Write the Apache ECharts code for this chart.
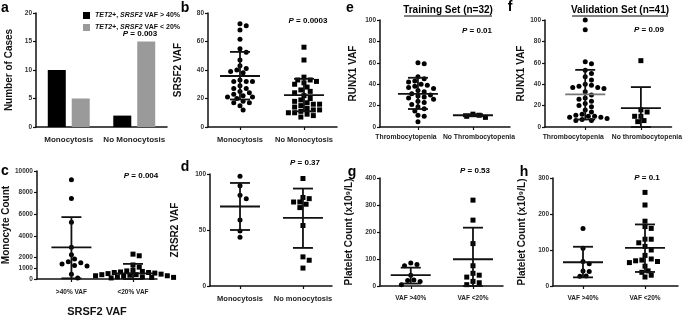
<!DOCTYPE html>
<html>
<head>
<meta charset="utf-8">
<script src="https://cdn.jsdelivr.net/npm/echarts@6/dist/echarts.min.js"></script>
<style>
  html, body { margin: 0; padding: 0; background: #fff; }
  #chart { width: 685px; height: 318px; }
</style>
</head>
<body>
<div id="chart"></div>
<script>
// ---- panel a: counts ----
var aCats = ['Monocytosis', 'No Monocytosis'];
var aHigh = [10, 2];   // TET2+, SRSF2 VAF > 40%
var aLow = [5, 15];    // TET2+, SRSF2 VAF < 20%
var aTicks = [0, 5, 10, 15, 20];

// ---- panel b: SRSF2 VAF ----
var bCats = ['Monocytosis', 'No Monocytosis'];
var bMono = [72.5, 71, 68, 61.5, 55, 52.5, 47, 43, 41, 40, 39, 38, 33, 32, 32, 32, 29, 27, 27, 25, 24, 23, 22, 21, 21, 20, 18, 17, 17, 15, 12];
var bNoMono = [56, 47, 35, 33, 33, 32, 31, 30, 28, 26, 25, 24, 22, 20, 19, 18, 17, 16, 16, 15, 14, 13, 12, 12, 11, 10, 10, 9, 8, 7];
var bMean = [35.8, 22.4], bLo = [19.3, 11], bHi = [52.7, 33.8];
var bTicks = [0, 20, 40, 60, 80];

// ---- panel e: training set ----
var eCats = ['Thrombocytopenia', 'No Thrombocytopenia'];
var eThr = [60, 59, 47, 45, 43, 42, 40, 39, 38, 37, 36, 34, 33, 31, 30, 29, 28, 27, 26, 24, 23, 21, 19, 17, 15, 11, 10, 5];
var eNoThr = [12, 11, 10, 9];
var eMean = [31, 11], eLo = [16.8, 10], eHi = [46, 12];
var eTicks = [0, 20, 40, 60, 80, 100];

// ---- panel f: validation set ----
var fCats = ['Thrombocytopenia', 'No thrombocytopenia'];
var fThr = [100, 91, 61, 59, 53, 50, 47, 44, 40, 39, 38, 37, 37, 36, 33, 30, 27, 26, 24, 22, 20, 19, 16, 14, 12, 11, 10, 10, 9, 9, 8, 7, 6, 6];
var fNoThr = [62, 16, 14, 10, 10, 6, 5];
var fMean = [30.4, 17.7], fLo = [7, 0], fHi = [53.4, 37.3];
var fTicks = [0, 20, 40, 60, 80, 100];

// ---- panel c: monocyte count ----
var cCats = ['>40% VAF', '<20% VAF'];
var cHigh = [9200, 7450, 5250, 2950, 2250, 1850, 1600, 1500, 1400, 1250, 1200, 450, 100];
var cLow = [2300, 2150, 1300, 1100, 800, 750, 700, 650, 600, 600, 550, 500, 450, 400, 400, 350, 300, 300, 250, 200, 200, 150, 150, 100];
var cMean = [2924, 530], cLo = [60, 0], cHi = [5730, 1400];
var cTicks = [0, 1000, 2000, 4000, 6000, 8000, 10000];

// ---- panel d: ZRSR2 VAF ----
var dCats = ['Monocytosis', 'No monocytosis'];
var dMono = [98, 89.5, 81, 78, 59, 49, 43.5];
var dNoMono = [96, 79, 78, 75, 75, 73, 70, 54, 26, 23, 16];
var dMean = [71, 60.9], dLo = [50, 34], dHi = [92, 87];
var dTicks = [0, 50, 100];

// ---- panel g: platelets, training ----
var gCats = ['VAF >40%', 'VAF <20%'];
var gHigh = [85, 80, 75, 40, 22, 20, 17, 5];
var gLow = [318, 244, 157, 75, 47, 40, 33, 17, 12, 5];
var gMean = [40, 99], gLo = [9, 0], gHi = [68, 216];
var gTicks = [0, 100, 200, 300, 400];

// ---- panel h: platelets, validation ----
var hCats = ['VAF >40%', 'VAF <20%'];
var hHigh = [160, 105, 68, 62, 42, 40, 28, 27];
var hLow = [260, 225, 180, 165, 160, 130, 130, 120, 110, 100, 85, 75, 72, 70, 68, 65, 55, 42, 38, 30, 25];
var hMean = [66, 106], hLo = [24, 39], hHi = [109, 171];
var hTicks = [0, 100, 200, 300];

var FONT = 'Liberation Sans, Arial, sans-serif';
var NARROW = 'Liberation Sans Narrow, Liberation Sans, Arial, sans-serif';
var platName = 'Platelet Count (x10\u2079/L)';

var panels = [
  { box: [208, 13, 129, 114], pos: [0.248, 0.744], cats: bCats, groups: [bMono, bNoMono], mean: bMean, lo: bLo, hi: bHi, ticks: bTicks, name: 'SRSF2 VAF', gap: 25 },
  { box: [380, 20, 130, 107], pos: [0.292, 0.715], cats: eCats, groups: [eThr, eNoThr], mean: eMean, lo: eLo, hi: eHi, ticks: eTicks, name: 'RUNX1 VAF', gap: 22, labelSize: 6.8, shift: [-12, 6], labelGap: 7 },
  { box: [545, 20, 132, 107], pos: [0.318, 0.758], cats: fCats, groups: [fThr, fNoThr], mean: fMean, lo: fLo, hi: fHi, ticks: fTicks, name: 'RUNX1 VAF', gap: 18, labelSize: 6.8, shift: [-12, 6], labelGap: 7, meanColor: '#777' },
  { box: [36, 171, 121, 114], pos: [0.287, 0.80], cats: cCats, groups: [cHigh, cLow], mean: cMean, lo: cLo, hi: cHi, ticks: cTicks, name: 'Monocyte Count', gap: 25, xName: 'SRSF2 VAF', labelSize: 6.5, labelGap: 10 },
  { box: [210, 174, 122, 112], pos: [0.246, 0.762], cats: dCats, groups: [dMono, dNoMono], mean: dMean, lo: dLo, hi: dHi, ticks: dTicks, name: 'ZRSR2 VAF', gap: 30 },
  { box: [380, 178, 123, 108], pos: [0.25, 0.756], cats: gCats, groups: [gHigh, gLow], mean: gMean, lo: gLo, hi: gHi, ticks: gTicks, name: platName, gap: 26, labelSize: 6.5 },
  { box: [553, 178, 125, 108], pos: [0.24, 0.736], cats: hCats, groups: [hHigh, hLow], mean: hMean, lo: hLo, hi: hHi, ticks: hTicks, name: platName, gap: 26, labelSize: 6.5 }
];

// spread overlapping dots sideways, like a dot plot
function swarmData(vals, xc, yMin, yMax, hPx, size) {
  var k = hPx / (yMax - yMin), placed = [], step = size * 0.6;
  return vals.map(function (v) {
    var py = (v - yMin) * k, dx = 0;
    for (var i = 0; i < 80; i++) {
      dx = i === 0 ? 0 : (i % 2 ? 1 : -1) * Math.ceil(i / 2) * step;
      var hit = placed.some(function (p) {
        var ddx = p[0] - dx, ddy = p[1] - py;
        return ddx * ddx + ddy * ddy < size * size;
      });
      if (!hit) break;
    }
    placed.push([dx, py]);
    return { value: [xc, v], symbolOffset: [dx, 0] };
  });
}

function errRenderer(meanColor) {
  return function (params, api) {
    var x = api.value(0);
    var m = api.coord([x, api.value(1)]);
    var lo = api.coord([x, api.value(2)]);
    var hi = api.coord([x, api.value(3)]);
    var st = { stroke: '#111', lineWidth: 1.8 };
    var mst = { stroke: (x === 1 && meanColor) || '#111', lineWidth: 1.8 };
    var mh = 20, ch = 10;
    return {
      type: 'group',
      children: [
        { type: 'line', shape: { x1: lo[0], y1: lo[1], x2: hi[0], y2: hi[1] }, style: st },
        { type: 'line', shape: { x1: lo[0] - ch, y1: lo[1], x2: lo[0] + ch, y2: lo[1] }, style: st },
        { type: 'line', shape: { x1: hi[0] - ch, y1: hi[1], x2: hi[0] + ch, y2: hi[1] }, style: st },
        { type: 'line', shape: { x1: m[0] - mh, y1: m[1], x2: m[0] + mh, y2: m[1] }, style: mst }
      ]
    };
  };
}

function yAxisOf(i, ticks, name, gap) {
  return {
    gridIndex: i, type: 'value', min: ticks[0], max: ticks[ticks.length - 1],
    axisLine: { show: true, lineStyle: { color: '#111', width: 1.5 } },
    axisTick: { show: true, customValues: ticks, length: 3, lineStyle: { color: '#111', width: 1.2 } },
    axisLabel: { customValues: ticks, fontSize: 6.5, fontWeight: 'bold', color: '#333', margin: 4, fontFamily: FONT,
      hideOverlap: false, formatter: function (v) { return String(v); } },
    splitLine: { show: false },
    name: name, nameLocation: 'middle', nameGap: gap,
    nameTextStyle: { fontSize: 10, fontWeight: 'bold', color: '#111', fontFamily: FONT }
  };
}

var grids = [{ left: 36, top: 13, width: 131, height: 114 }];
var xAxes = [{
  gridIndex: 0, type: 'category', data: aCats,
  axisLine: { lineStyle: { color: '#111', width: 1.5 } },
  axisTick: { show: false },
  axisLabel: { interval: 0, hideOverlap: false, fontSize: 8, fontWeight: 'bold', color: '#222', margin: 9, fontFamily: NARROW }
}];
var yAxes = [yAxisOf(0, aTicks, 'Number of Cases', 22)];
var series = [
  { name: 'high', type: 'bar', xAxisIndex: 0, yAxisIndex: 0, data: aHigh, barWidth: 18, barGap: '33%', itemStyle: { color: '#000' } },
  { name: 'low', type: 'bar', xAxisIndex: 0, yAxisIndex: 0, data: aLow, barWidth: 18, barGap: '33%', itemStyle: { color: '#9a9a9a' } }
];

panels.forEach(function (p, n) {
  var i = n + 1;
  var span = 1 / (p.pos[1] - p.pos[0]);
  var xmin = 1 - p.pos[0] * span;
  var xi = xAxes.length;
  var fs = p.labelSize || 7.5;
  grids.push({ left: p.box[0], top: p.box[1], width: p.box[2], height: p.box[3] });
  // one x axis per category label, so long labels are not dropped as overlapping
  [1, 2].forEach(function (c) {
    var sh = p.shift ? p.shift[c - 1] : 0;
    var pad = sh < 0 ? [0, -2 * sh, 0, 0] : [0, 0, 0, 2 * sh];
    xAxes.push({
      gridIndex: i, type: 'value', min: xmin, max: xmin + span, position: 'bottom',
      axisLine: { show: c === 1, onZero: false, lineStyle: { color: '#111', width: 1.5 } },
      axisTick: { show: true, customValues: [c], length: 3, lineStyle: { color: '#111', width: 1.2 } },
      axisLabel: {
        customValues: [c], hideOverlap: false, fontSize: fs, fontWeight: 'bold', color: '#222',
        margin: p.labelGap || 9, fontFamily: NARROW,
        formatter: function (v) { return '{t|' + p.cats[Math.round(v) - 1] + '}'; },
        rich: { t: { fontSize: fs, fontWeight: 'bold', color: '#222', fontFamily: NARROW, padding: pad } }
      },
      splitLine: { show: false },
      name: c === 1 ? (p.xName || '') : '', nameLocation: 'middle', nameGap: 27,
      nameTextStyle: { fontSize: 11, fontWeight: 'bold', color: '#111', fontFamily: FONT }
    });
  });
  yAxes.push(yAxisOf(i, p.ticks, p.name, p.gap));
  var yMin = p.ticks[0], yMax = p.ticks[p.ticks.length - 1];
  p.groups.forEach(function (vals, g) {
    series.push({
      type: 'scatter', xAxisIndex: xi, yAxisIndex: i,
      symbol: g === 0 ? 'circle' : 'rect', symbolSize: 5,
      itemStyle: { color: '#000', opacity: 1 },
      data: swarmData(vals, g + 1, yMin, yMax, p.box[3], 5.2),
      z: 2
    });
  });
  series.push({
    type: 'custom', xAxisIndex: xi, yAxisIndex: i, renderItem: errRenderer(p.meanColor), z: 3,
    data: p.mean.map(function (m, g) { return [g + 1, m, p.lo[g], p.hi[g]]; })
  });
});

function label(x, y, text, size, extra) {
  var st = { text: text, font: 'bold ' + size + 'px ' + FONT, fill: '#000', textAlign: 'center', textVerticalAlign: 'middle',
    rich: { i: { fontStyle: 'italic', fontWeight: 'bold', fontSize: size, fontFamily: FONT } } };
  return { type: 'text', x: x, y: y, style: Object.assign(st, extra || {}) };
}

var graphics = [
  label(5, 8, 'a', 14), label(185, 8, 'b', 14), label(350, 8, 'e', 14), label(510, 7, 'f', 14),
  label(5, 171, 'c', 14), label(185, 167, 'd', 14), label(352, 172, 'g', 14), label(524, 172, 'h', 14),
  label(140, 34, '{i|P} = 0.003', 8), label(308, 21, '{i|P} = 0.0003', 8), label(477, 31, '{i|P} = 0.01', 8),
  label(649, 30, '{i|P} = 0.09', 8), label(141, 176, '{i|P} = 0.004', 8), label(305, 163, '{i|P} = 0.37', 8),
  label(475, 171, '{i|P} = 0.53', 8), label(647, 178, '{i|P} = 0.1', 8),
  label(448, 10, 'Training Set (n=32)', 10), label(620, 10, 'Validation Set (n=41)', 10),
  { type: 'line', shape: { x1: 404, y1: 16, x2: 492, y2: 16 }, style: { stroke: '#000', lineWidth: 1 } },
  { type: 'line', shape: { x1: 572, y1: 16, x2: 668, y2: 16 }, style: { stroke: '#000', lineWidth: 1 } }
];

var chart = echarts.init(document.getElementById('chart'), null, { renderer: 'canvas' });
chart.setOption({
  animation: false,
  backgroundColor: '#fff',
  legend: {
    left: 78, top: 7, orient: 'vertical', itemGap: 5, itemWidth: 7, itemHeight: 7, icon: 'rect',
    data: ['high', 'low'],
    formatter: function (n) {
      return n === 'high' ? '{i|TET2+}, {i|SRSF2} VAF > 40%' : '{i|TET2+}, {i|SRSF2} VAF < 20%';
    },
    textStyle: { fontSize: 7, fontWeight: 'bold', color: '#111', fontFamily: FONT,
      rich: { i: { fontSize: 7, fontWeight: 'bold', fontStyle: 'italic', fontFamily: FONT } } }
  },
  grid: grids,
  xAxis: xAxes,
  yAxis: yAxes,
  series: series,
  graphic: graphics
});
</script>
</body>
</html>
